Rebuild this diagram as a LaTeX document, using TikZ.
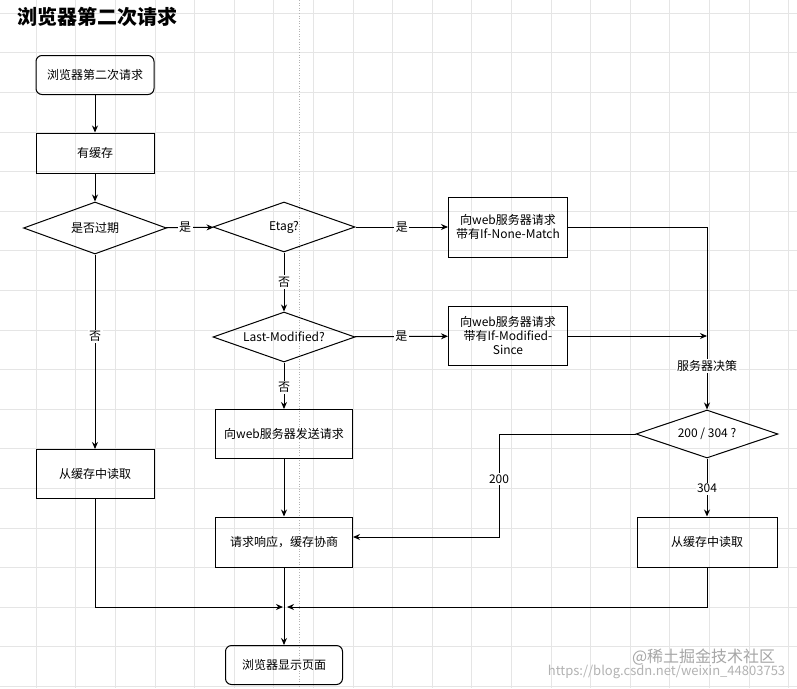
\documentclass[tikz,border=0pt]{standalone}
\usepackage{fontspec}
\setmainfont{Noto Sans CJK SC}
\usetikzlibrary{shapes.geometric,arrows.meta}

\begin{document}
\begin{tikzpicture}[x=1pt,y=-1pt,
	>={Stealth[length=7pt,width=6pt]},
	line width=1pt,
	every node/.style={font=\fontsize{12}{14}\selectfont},
	box/.style={shape=rectangle,draw=black,align=center,inner sep=0pt},
	rbox/.style={box,rounded corners=6pt},
	decision/.style={shape=diamond,draw=black,inner sep=0pt,aspect=2.8},
	lbl/.style={fill=white,inner sep=1.5pt}]

	\fill[white] (0,0) rectangle (797,688);
	\useasboundingbox (0,0) rectangle (797,688);
	\foreach \i in {0,...,19}
		\draw[black!10,line width=0.6pt] (36+39.6*\i,0) -- (36+39.6*\i,688);
	\foreach \j in {0,...,17}
		\draw[black!10,line width=0.6pt] (0,13+39.6*\j) -- (797,13+39.6*\j);
	\draw[black!30,dotted,line width=0.6pt] (299,0) -- (299,688);

	\node[anchor=west,font=\fontsize{20}{24}\selectfont\bfseries] (title) at (14,17) {浏览器第二次请求};

	\node[rbox,minimum width=118,minimum height=39] (start)   at (95, 75)  {浏览器第二次请求};
	\node[box,minimum width=118,minimum height=40]  (cache)   at (95, 153) {有缓存};
	\node[decision,minimum width=143,minimum height=52] (expired) at (95, 228) {是否过期};
	\node[decision,minimum width=142,minimum height=50] (etag)    at (284, 227) {Etag?};
	\node[box,minimum width=119,minimum height=60]  (reqA)    at (508, 227) {向web服务器请求\\带有If-None-Match};
	\node[decision,minimum width=142,minimum height=50] (lastmod) at (284, 337) {Last-Modified?};
	\node[box,minimum width=119,minimum height=59]  (reqB)    at (508, 336) {向web服务器请求\\带有If-Modified-\\Since};
	\node[box,minimum width=118,minimum height=49]  (read1)   at (95, 474) {从缓存中读取};
	\node[box,minimum width=137,minimum height=49]  (send)    at (284, 434) {向web服务器发送请求};
	\node[decision,minimum width=142,minimum height=48] (decide)  at (707, 434) {200 / 304 ?};
	\node[box,minimum width=137,minimum height=50]  (resp)    at (284, 542) {请求响应，缓存协商};
	\node[box,minimum width=140,minimum height=50]  (read2)   at (707, 542) {从缓存中读取};
	\node[rbox,minimum width=117,minimum height=39] (show)    at (284, 665) {浏览器显示页面};

	\coordinate (c200)  at (499, 537);
	\coordinate (merge) at (285, 607);

	\draw[->] (start) -- (cache);
	\draw[->] (cache) -- (expired);
	\draw[->] (expired) -- node[lbl,pos=0.4] {是} (etag);
	\draw[->] (expired) -- node[lbl,pos=0.42] {否} (read1);
	\draw[->] (etag) -- node[lbl] {是} (reqA);
	\draw[->] (etag) -- node[lbl] {否} (lastmod);
	\draw[->] (lastmod) -- node[lbl] {是} (reqB);
	\draw[->] (lastmod) -- node[lbl,pos=0.54] {否} (send);
	\draw[->] (send) -- (resp);
	\draw[->] (reqA) -| node[lbl,pos=0.88] {服务器决策} (decide);
	\draw[->] (reqB) -- (reqB -| decide);
	\draw[->] (decide) -| node[lbl,pos=0.72] {200} (c200) -- (c200 -| resp.east);
	\draw[->] (decide) -- node[lbl,pos=0.52] {304} (read2);
	\draw[->] (read1) |- ([xshift=-2pt]merge);
	\draw[->] (read2) |- ([xshift=2pt]merge);
	\draw[->] (resp) -- (show);

	\node[anchor=east,text=black!35,font=\fontsize{16}{18}\selectfont] (wm1) at (779, 657) {@稀土掘金技术社区};
	\node[anchor=east,text=black!30,font=\fontsize{13}{15}\selectfont] (wm2) at (789, 672) {https://blog.csdn.net/weixin\_44803753};

\end{tikzpicture}
\end{document}
